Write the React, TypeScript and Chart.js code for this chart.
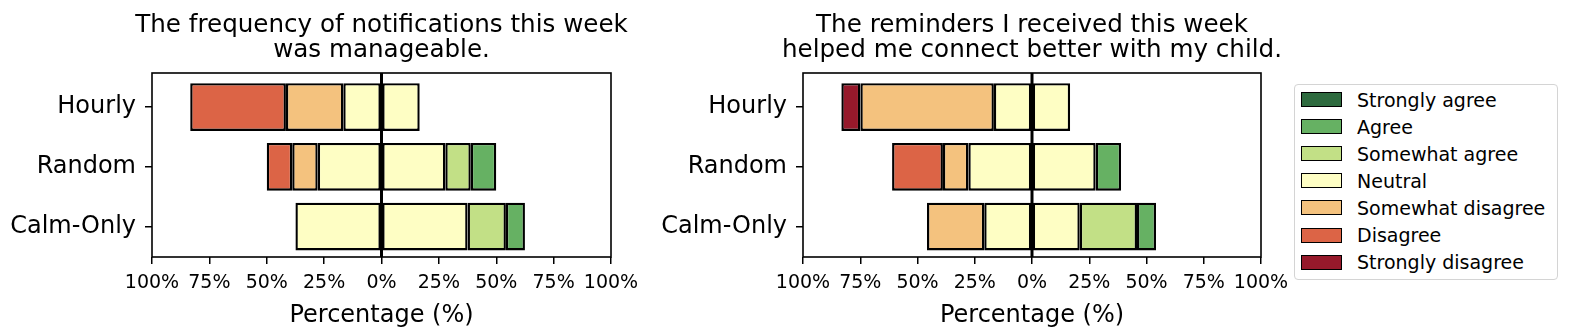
import React, { useEffect, useRef } from "react";
import { Chart, registerables } from "chart.js";

Chart.register(...registerables);

const CATEGORIES = ["Hourly", "Random", "Calm-Only"];
const LEVELS = [
  "Strongly agree",
  "Agree",
  "Somewhat agree",
  "Neutral",
  "Somewhat disagree",
  "Disagree",
  "Strongly disagree",
];
const LEVEL_COLORS = ["#2e6b3f", "#66b163", "#c2e086", "#fefec4", "#f4c27e", "#dc6446", "#96192b"];
const X_TICKS = [-100, -75, -50, -25, 0, 25, 50, 75, 100];

const TITLE_1 = ["The frequency of notifications this week", "was manageable."];
const TITLE_2 = ["The reminders I received this week", "helped me connect better with my child."];

// Question 1 (percent of respondents), order of CATEGORIES
const q1StronglyAgree = [0, 0, 0];
const q1Agree = [0, 11.1, 8.3];
const q1SomewhatAgree = [0, 11.1, 16.7];
const q1Neutral = [33.3, 55.6, 75.0];
const q1SomewhatDisagree = [25.0, 11.1, 0];
const q1Disagree = [41.7, 11.1, 0];
const q1StronglyDisagree = [0, 0, 0];

// Question 2
const q2StronglyAgree = [0, 0, 0];
const q2Agree = [0, 11.1, 8.3];
const q2SomewhatAgree = [0, 0, 25.0];
const q2Neutral = [33.3, 55.6, 41.7];
const q2SomewhatDisagree = [58.3, 11.1, 25.0];
const q2Disagree = [0, 22.2, 0];
const q2StronglyDisagree = [8.3, 0, 0];

const FONT = "DejaVu Sans";

function pts(values: number[], sign: number) {
  return values
    .map((v, i) => ({ x: sign * v, y: i }))
    .filter((p) => p.x !== 0);
}

function buildDatasets(sa: number[], a: number[], sma: number[], n: number[], smd: number[], d: number[], sd: number[]) {
  const base = { borderColor: "#000", borderWidth: 2.4, borderSkipped: false as const, barPercentage: 0.8, categoryPercentage: 1 };
  const c = (name: string) => LEVEL_COLORS[LEVELS.indexOf(name)];
  return [
    { ...base, label: "Neutral", data: pts(n.map((v) => v / 2), -1), backgroundColor: c("Neutral") },
    { ...base, label: "Neutral", data: pts(n.map((v) => v / 2), 1), backgroundColor: c("Neutral") },
    { ...base, label: "Somewhat disagree", data: pts(smd, -1), backgroundColor: c("Somewhat disagree") },
    { ...base, label: "Disagree", data: pts(d, -1), backgroundColor: c("Disagree") },
    { ...base, label: "Strongly disagree", data: pts(sd, -1), backgroundColor: c("Strongly disagree") },
    { ...base, label: "Somewhat agree", data: pts(sma, 1), backgroundColor: c("Somewhat agree") },
    { ...base, label: "Agree", data: pts(a, 1), backgroundColor: c("Agree") },
    { ...base, label: "Strongly agree", data: pts(sa, 1), backgroundColor: c("Strongly agree") },
  ];
}

const framePlugin = {
  id: "frameAndZero",
  afterDatasetsDraw(chart: any) {
    const { ctx, chartArea } = chart;
    const x0 = chart.scales.x.getPixelForValue(0);
    ctx.save();
    ctx.strokeStyle = "#000";
    ctx.lineWidth = 3;
    ctx.beginPath();
    ctx.moveTo(x0, chartArea.top);
    ctx.lineTo(x0, chartArea.bottom);
    ctx.stroke();
    ctx.lineWidth = 1.6;
    ctx.strokeRect(chartArea.left, chartArea.top, chartArea.right - chartArea.left, chartArea.bottom - chartArea.top);
    ctx.restore();
  },
};

const titlePlugin = {
  id: "axesTitle",
  afterDraw(chart: any) {
    const lines: string[] = chart.options.plugins.axesTitle?.lines ?? [];
    const { ctx, chartArea } = chart;
    const cx = (chartArea.left + chartArea.right) / 2;
    ctx.save();
    ctx.fillStyle = "#000";
    ctx.font = `24.6px '${FONT}'`;
    ctx.textAlign = "center";
    ctx.textBaseline = "alphabetic";
    lines.forEach((line, i) => ctx.fillText(line, cx, 32 + i * 25));
    ctx.restore();
  },
};

function makeConfig(title: string[], datasets: any[], yWidth: number): any {
  return {
    type: "bar",
    data: { datasets },
    plugins: [framePlugin, titlePlugin],
    options: {
      indexAxis: "y",
      animation: false,
      responsive: false,
      maintainAspectRatio: false,
      layout: { padding: { left: 0, right: 29, top: 73, bottom: 0 } },
      plugins: {
        legend: { display: false },
        tooltip: { enabled: false },
        title: { display: false },
        axesTitle: { lines: title },
      },
      scales: {
        x: {
          type: "linear",
          stacked: true,
          min: -100,
          max: 100,
          afterBuildTicks: (s: any) => {
            s.ticks = X_TICKS.map((v) => ({ value: v }));
          },
          afterFit: (s: any) => {
            s.height = 79;
            s.paddingLeft = 0;
            s.paddingRight = 0;
          },
          border: { display: false },
          grid: { drawOnChartArea: false, drawTicks: true, tickLength: 7, color: "#000", lineWidth: 1.5 },
          ticks: {
            color: "#000",
            font: { family: FONT, size: 19 },
            padding: 8,
            maxRotation: 0,
            autoSkip: false,
            callback: (v: number) => `${Math.abs(v)}%`,
          },
          title: {
            display: true,
            text: "Percentage (%)",
            color: "#000",
            font: { family: FONT, size: 24 },
            padding: { top: 0, bottom: 6 },
          },
        },
        y: {
          type: "linear",
          stacked: true,
          reverse: true,
          offset: false,
          min: -0.57,
          max: 2.51,
          afterBuildTicks: (s: any) => {
            s.ticks = CATEGORIES.map((_, i) => ({ value: i }));
          },
          afterFit: (s: any) => {
            s.width = yWidth;
            s.paddingTop = 0;
            s.paddingBottom = 0;
          },
          border: { display: false },
          grid: { offset: false, drawOnChartArea: false, drawTicks: true, tickLength: 7, color: "#000", lineWidth: 1.5 },
          ticks: {
            color: "#000",
            font: { family: FONT, size: 24 },
            padding: 9,
            autoSkip: false,
            callback: (v: number) => CATEGORIES[v] ?? "",
          },
        },
      },
    },
  };
}

function BarChart({ left, width, title, datasets, yWidth }: any) {
  const ref = useRef<HTMLCanvasElement>(null);
  useEffect(() => {
    if (!ref.current) return;
    const chart = new Chart(ref.current, makeConfig(title, datasets, yWidth));
    return () => chart.destroy();
  }, []);
  return (
    <canvas
      ref={ref}
      width={width}
      height={336}
      style={{ position: "absolute", left, top: 0, width, height: 336 }}
    />
  );
}

function Legend() {
  const boxLeft = 1294;
  const boxTop = 84;
  const rowStart = 99.5;
  const rowStep = 27.1;
  return (
    <div
      style={{
        position: "absolute",
        left: boxLeft,
        top: boxTop,
        width: 264,
        height: 196,
        boxSizing: "border-box",
        border: "1px solid #d4d4d4",
        borderRadius: 4,
        background: "#fff",
        fontFamily: FONT,
        fontSize: 19,
        color: "#000",
      }}
    >
      {LEVELS.map((name, i) => {
        const cy = rowStart + i * rowStep - boxTop - 1;
        return (
          <div key={name}>
            <div
              style={{
                position: "absolute",
                left: 6,
                top: cy - 7.5,
                width: 41,
                height: 15,
                boxSizing: "border-box",
                border: "1.8px solid #000",
                background: LEVEL_COLORS[i],
              }}
            />
            <div
              style={{
                position: "absolute",
                left: 62,
                top: cy - 13,
                height: 26,
                lineHeight: "26px",
                whiteSpace: "nowrap",
              }}
            >
              {name}
            </div>
          </div>
        );
      })}
    </div>
  );
}

export default function App() {
  const ds1 = buildDatasets(q1StronglyAgree, q1Agree, q1SomewhatAgree, q1Neutral, q1SomewhatDisagree, q1Disagree, q1StronglyDisagree);
  const ds2 = buildDatasets(q2StronglyAgree, q2Agree, q2SomewhatAgree, q2Neutral, q2SomewhatDisagree, q2Disagree, q2StronglyDisagree);
  return (
    <div style={{ position: "fixed", left: 0, top: 0, width: 1578, height: 336, background: "#fff", overflow: "hidden" }}>
      <BarChart left={0} width={640} title={TITLE_1} datasets={ds1} yWidth={152} />
      <BarChart left={640} width={650} title={TITLE_2} datasets={ds2} yWidth={163} />
      <Legend />
    </div>
  );
}
